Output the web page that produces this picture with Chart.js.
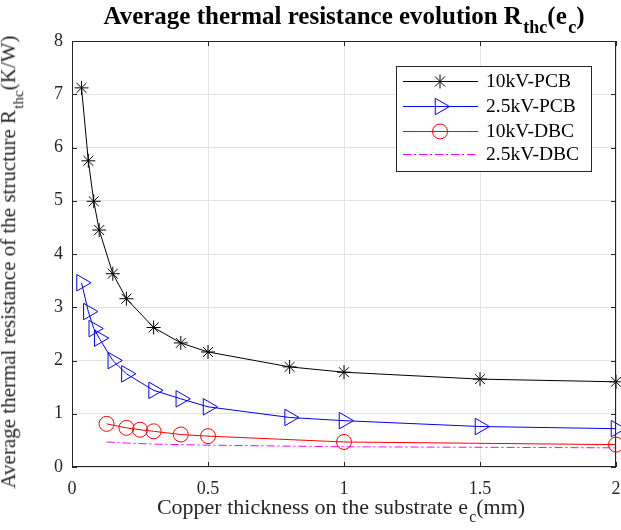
<!DOCTYPE html>
<html lang="en">
<head>
    <meta charset="UTF-8">
    <title>Average thermal resistance evolution</title>
    <script src="https://cdn.jsdelivr.net/npm/chart.js"></script>
    <style>
        body {
            margin: 0;
            background: #ffffff;
            font-family: 'Liberation Serif', 'Times New Roman', serif;
            color: #262626;
            overflow: hidden;
        }
        .wrap {
            position: relative;
            width: 621px;
            height: 530px;
        }
        .wrap canvas {
            position: absolute;
            left: 0;
            top: 0;
        }
        .lbl {
            position: absolute;
            white-space: nowrap;
            line-height: 1;
        }
        .lbl sub {
            font-size: 0.72em;
            vertical-align: -0.5em;
            margin-left: 0.08em;
        }
        #title {
            font-weight: bold;
            font-size: 25px;
            color: #000;
            left: 344px;
            top: 3px;
            transform: translateX(-50%);
        }
        #xlabel {
            font-size: 22px;
            left: 341px;
            top: 496px;
            transform: translateX(-50%);
        }
        #ylabel {
            font-size: 21px;
            left: 12px;
            top: 262px;
            transform: translate(-50%, -50%) rotate(-90deg);
        }
    </style>
</head>
<body>
<div class="wrap">
    <canvas id="chart" width="621" height="530"></canvas>
    <div class="lbl" id="title">Average thermal resistance evolution R<sub>thc</sub>(e<sub>c</sub>)</div>
    <div class="lbl" id="xlabel">Copper thickness on the substrate e<sub>c</sub>(mm)</div>
    <div class="lbl" id="ylabel">Average thermal resistance of the structure R<sub>thc</sub>(K/W)</div>
</div>

<script>
    // values (copper thickness in mm, resistance in K/W)
    const seriesNames = ['10kV-PCB', '2.5kV-PCB', '10kV-DBC', '2.5kV-DBC'];
    const pcbThickness = [0.035, 0.06, 0.08, 0.1, 0.15, 0.2, 0.3, 0.4, 0.5, 0.8, 1, 1.5, 2];
    const rth10kvPcb = [7.12, 5.75, 4.99, 4.45, 3.63, 3.16, 2.62, 2.33, 2.16, 1.88, 1.78, 1.65, 1.60];
    const rth25kvPcb = [3.46, 2.92, 2.60, 2.42, 2.00, 1.75, 1.44, 1.28, 1.13, 0.93, 0.87, 0.76, 0.72];
    const dbcThickness = [0.127, 0.2, 0.25, 0.3, 0.4, 0.5, 1, 2];
    const rth10kvDbc = [0.81, 0.735, 0.70, 0.67, 0.61, 0.58, 0.47, 0.42];
    const rth25kvDbc = [0.47, 0.45, 0.44, 0.43, 0.42, 0.41, 0.38, 0.36];
    const xTicks = [0, 0.5, 1, 1.5, 2];
    const yTicks = [0, 1, 2, 3, 4, 5, 6, 7, 8];

    const serif = 'Liberation Serif, Times New Roman, serif';
    const axisColor = '#262626';

    const toPoints = (xs, ys) => xs.map((x, i) => ({ x: x, y: ys[i] }));

    const styles = [
        { color: '#000000', point: 'star', radius: 7, rotation: 0, dash: [] },
        { color: '#0000ff', point: 'triangle', radius: 9.5, rotation: 90, dash: [] },
        { color: '#ff0000', point: 'circle', radius: 7.5, rotation: 0, dash: [] },
        { color: '#ff00ff', point: false, radius: 0, rotation: 0, dash: [8, 3, 2, 3] }
    ];

    const allData = [
        toPoints(pcbThickness, rth10kvPcb),
        toPoints(pcbThickness, rth25kvPcb),
        toPoints(dbcThickness, rth10kvDbc),
        toPoints(dbcThickness, rth25kvDbc)
    ];

    const datasets = allData.map((pts, i) => ({
        label: seriesNames[i],
        data: pts,
        showLine: true,
        borderColor: styles[i].color,
        borderWidth: 1,
        borderDash: styles[i].dash,
        pointStyle: styles[i].point,
        pointRadius: styles[i].radius,
        pointRotation: styles[i].rotation,
        pointBorderColor: styles[i].color,
        pointBorderWidth: 1,
        pointBackgroundColor: 'rgba(0,0,0,0)',
        pointHoverRadius: styles[i].radius,
        tension: 0,
        clip: 10
    }));

    // box around the axes with inward ticks, like the original figure
    const boxPlugin = {
        id: 'box',
        afterDatasetsDraw(chart) {
            const { ctx, chartArea: a, scales } = chart;
            ctx.save();
            ctx.strokeStyle = axisColor;
            ctx.lineWidth = 1;
            ctx.strokeRect(a.left + 0.5, a.top + 0.5, a.right - a.left - 1, a.bottom - a.top - 1);
            ctx.beginPath();
            xTicks.forEach(v => {
                const px = Math.round(scales.x.getPixelForValue(v)) + 0.5;
                ctx.moveTo(px, a.bottom); ctx.lineTo(px, a.bottom - 5);
                ctx.moveTo(px, a.top); ctx.lineTo(px, a.top + 5);
            });
            yTicks.forEach(v => {
                const py = Math.round(scales.y.getPixelForValue(v)) + 0.5;
                ctx.moveTo(a.left, py); ctx.lineTo(a.left + 5, py);
                ctx.moveTo(a.right, py); ctx.lineTo(a.right - 5, py);
            });
            ctx.stroke();
            ctx.restore();
        }
    };

    // legend with line + marker samples
    const legendPlugin = {
        id: 'matLegend',
        afterDraw(chart) {
            const ctx = chart.ctx;
            const bx = 396, by = 66, bw = 195, bh = 105;
            const rows = [81, 106, 131, 154];
            ctx.save();
            ctx.fillStyle = '#ffffff';
            ctx.fillRect(bx, by, bw, bh);
            ctx.strokeStyle = axisColor;
            ctx.lineWidth = 1;
            ctx.strokeRect(bx + 0.5, by + 0.5, bw, bh);
            ctx.restore();
            rows.forEach((y, i) => {
                const st = styles[i];
                ctx.save();
                if (st.dash.length) {
                    ctx.lineWidth = 1;
                    ctx.strokeStyle = st.color;
                    ctx.setLineDash(st.dash);
                    ctx.beginPath();
                    ctx.moveTo(403, y + 0.5);
                    ctx.lineTo(478, y + 0.5);
                    ctx.stroke();
                    ctx.setLineDash([]);
                } else {
                    ctx.fillStyle = st.color;
                    ctx.fillRect(403, y, 75, 1);
                }
                if (st.point) {
                    ctx.lineWidth = 1;
                    ctx.fillStyle = 'rgba(0,0,0,0)';
                    ctx.strokeStyle = st.color;
                    Chart.helpers.drawPoint(ctx, {
                        pointStyle: st.point,
                        radius: st.radius,
                        rotation: st.rotation,
                        borderWidth: 1
                    }, 440, y + 0.5);
                }
                ctx.fillStyle = '#000000';
                ctx.font = '19.5px ' + serif;
                ctx.textBaseline = 'middle';
                ctx.fillText(seriesNames[i], 486, y + 1);
                ctx.restore();
            });
        }
    };

    new Chart(document.getElementById('chart'), {
        type: 'scatter',
        data: { datasets: datasets },
        options: {
            responsive: false,
            animation: false,
            devicePixelRatio: 1,
            layout: { autoPadding: false, padding: { left: 0, right: 5, top: 41, bottom: 0 } },
            plugins: {
                legend: { display: false },
                tooltip: { enabled: false }
            },
            scales: {
                x: {
                    type: 'linear',
                    min: 0,
                    max: 2,
                    afterBuildTicks: s => { s.ticks = xTicks.map(v => ({ value: v })); },
                    afterFit: s => {
                        s.height = 63;
                        s.paddingLeft = 0;
                        s.paddingRight = 0;
                    },
                    grid: { color: '#e3e3e3', drawTicks: false },
                    border: { display: false },
                    ticks: {
                        font: { family: serif, size: 18 },
                        color: axisColor,
                        padding: 11,
                        maxRotation: 0,
                        callback: v => String(v)
                    }
                },
                y: {
                    type: 'linear',
                    min: 0,
                    max: 8,
                    afterBuildTicks: s => { s.ticks = yTicks.map(v => ({ value: v })); },
                    afterFit: s => {
                        s.width = 72;
                        s.paddingTop = 0;
                        s.paddingBottom = 0;
                    },
                    grid: { color: '#e3e3e3', drawTicks: false },
                    border: { display: false },
                    ticks: {
                        font: { family: serif, size: 18 },
                        color: axisColor,
                        padding: 9,
                        callback: v => String(v)
                    }
                }
            }
        },
        plugins: [boxPlugin, legendPlugin]
    });
</script>
</body>
</html>
